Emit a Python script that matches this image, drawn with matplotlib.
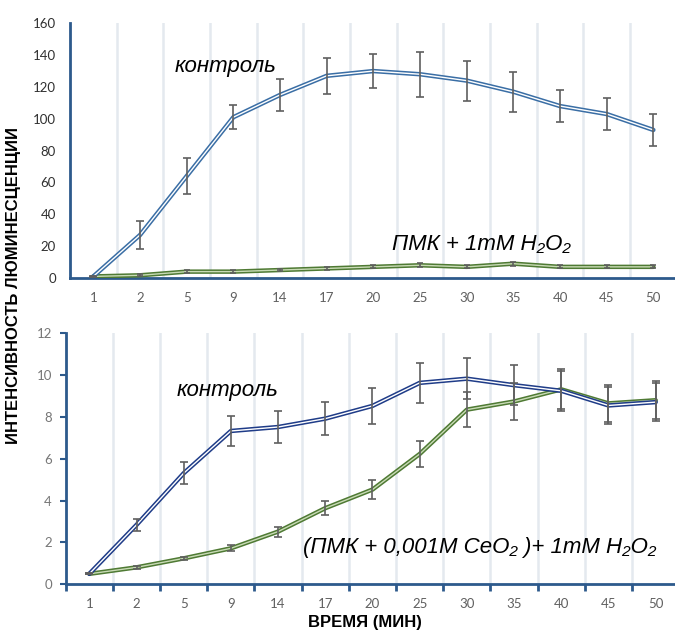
import matplotlib
matplotlib.use("Agg")
import matplotlib.pyplot as plt
import numpy as np

# Time points (min) shared by both panels
times = ["1", "2", "5", "9", "14", "17", "20", "25", "30", "35", "40", "45", "50"]

# Upper panel: control vs PMK + 1 mM H2O2
top_control = [1, 27, 64, 101, 115, 127, 130, 128, 124, 117, 108, 103, 93]
top_control_err = [0.5, 9, 11.5, 7.5, 10, 11.5, 10.5, 14, 12.5, 12.5, 10, 10, 10]
top_pmk = [1, 1.7, 4, 4, 5, 6, 7, 8, 7, 9, 7, 7, 7]
top_pmk_err = [0.4, 0.6, 0.8, 0.8, 0.8, 0.9, 0.9, 1.2, 1.0, 1.3, 0.9, 0.9, 0.9]

# Lower panel: control vs (PMK + 0.001M CeO2) + 1 mM H2O2
bot_control = [0.5, 2.84, 5.31, 7.33, 7.52, 7.92, 8.53, 9.63, 9.83, 9.52, 9.25, 8.55, 8.71]
bot_control_err = [0.03, 0.28, 0.53, 0.72, 0.75, 0.78, 0.87, 0.97, 0.98, 0.96, 0.95, 0.9, 0.9]
bot_ceo2 = [0.5, 0.81, 1.24, 1.72, 2.52, 3.64, 4.53, 6.23, 8.35, 8.74, 9.32, 8.65, 8.8]
bot_ceo2_err = [0.03, 0.07, 0.08, 0.15, 0.24, 0.35, 0.45, 0.62, 0.83, 0.88, 0.95, 0.9, 0.9]

W, H = 675, 632
fig = plt.figure(figsize=(W / 100, H / 100), dpi=100)

def px_axes(left, right, top, bottom):
    return fig.add_axes([left / W, (H - bottom) / H, (right - left) / W, (bottom - top) / H])

ax1 = px_axes(70, 676.7, 23.3, 278)
ax2 = px_axes(65.7, 679.3, 333.3, 584.3)

x = np.arange(len(times))
tick_font = "Lato"
ital = dict(family=["Liberation Sans", "DejaVu Sans"], style="italic")
spine_col = "#2d5a8c"
grid_col = "#e4e9ef"
err_col = "#5f5f5f"


def double_line(ax, y, outer, inner, z):
    ax.plot(x, y, color=outer, lw=3.2, solid_joinstyle="round", solid_capstyle="round", zorder=z)
    ax.plot(x, y, color=inner, lw=1.0, solid_joinstyle="round", solid_capstyle="round", zorder=z + 0.1)


def style_axes(ax, ymax, ystep, ycolor, xticks_marks):
    ax.set_xlim(-0.5, len(times) - 0.5)
    ax.set_ylim(0, ymax)
    for b in np.arange(0.5, len(times) - 0.5, 1.0):
        ax.axvline(b, color=grid_col, lw=1.8, zorder=0)
    for s in ("top", "right"):
        ax.spines[s].set_visible(False)
    for s in ("left", "bottom"):
        ax.spines[s].set_color(spine_col)
        ax.spines[s].set_linewidth(2)
    ax.set_xticks(x)
    ax.set_xticklabels(times)
    ax.set_yticks(np.arange(0, ymax + 0.001, ystep))
    for lab in ax.get_xticklabels():
        lab.set_fontfamily(tick_font)
        lab.set_fontsize(9.5)
        lab.set_color("#606060")
    for lab in ax.get_yticklabels():
        lab.set_fontfamily(tick_font)
        lab.set_fontsize(9.5)
        lab.set_color(ycolor)
    ax.tick_params(axis="x", which="major", length=0, pad=10)
    if xticks_marks:
        ax.set_xticks(np.arange(-0.5, len(times) - 0.5, 1.0), minor=True)
        ax.tick_params(axis="x", which="minor", length=5, width=2, color=spine_col, direction="out")
        ax.tick_params(axis="y", which="major", length=4, width=1.5, color=spine_col, pad=6)
    else:
        ax.tick_params(axis="y", which="major", length=0, pad=10)


# Upper panel
style_axes(ax1, 160, 20, "#303030", False)
ax1.errorbar(x, top_control, yerr=top_control_err, fmt="none", ecolor=err_col,
             elinewidth=1.2, capsize=2.8, capthick=1.2, zorder=5)
ax1.errorbar(x, top_pmk, yerr=top_pmk_err, fmt="none", ecolor=err_col,
             elinewidth=1.2, capsize=2.5, capthick=1.2, zorder=5)
double_line(ax1, top_pmk, "#4f7a34", "#c9dbb6", 3)
double_line(ax1, top_control, "#3a6ea5", "white", 4)
ax1.text(1.75, 133, "контроль", fontsize=16, va="center", ha="left", **ital)
ax1.text(6.39, 21, "ПМК + 1mM H₂O₂", fontsize=16, va="center", ha="left", **ital)

# Lower panel
style_axes(ax2, 12, 2, "#767676", True)
ax2.errorbar(x, bot_control, yerr=bot_control_err, fmt="none", ecolor=err_col,
             elinewidth=1.2, capsize=2.8, capthick=1.2, zorder=5)
ax2.errorbar(x, bot_ceo2, yerr=bot_ceo2_err, fmt="none", ecolor=err_col,
             elinewidth=1.2, capsize=2.8, capthick=1.2, zorder=5)
double_line(ax2, bot_ceo2, "#4f7a34", "#c9dbb6", 3)
double_line(ax2, bot_control, "#1f3c88", "white", 4)
ax2.text(1.85, 9.25, "контроль", fontsize=16, va="center", ha="left", **ital)
ax2.text(4.53, 1.74, "(ПМК + 0,001M CeO₂ )+ 1mM H₂O₂", fontsize=16, va="center", ha="left", **ital)

# Shared axis titles
fig.text(14 / W, 1 - 286 / H, "ИНТЕНСИВНОСТЬ ЛЮМИНЕСЦЕНЦИИ", rotation=90, ha="center", va="center",
         fontsize=12, fontweight="bold", family=["Liberation Sans", "DejaVu Sans"])
fig.text(365 / W, 1 - 622 / H, "ВРЕМЯ (МИН)", ha="center", va="center",
         fontsize=12, fontweight="bold", family=["Liberation Sans", "DejaVu Sans"])

fig.savefig("out.png", dpi=100)
